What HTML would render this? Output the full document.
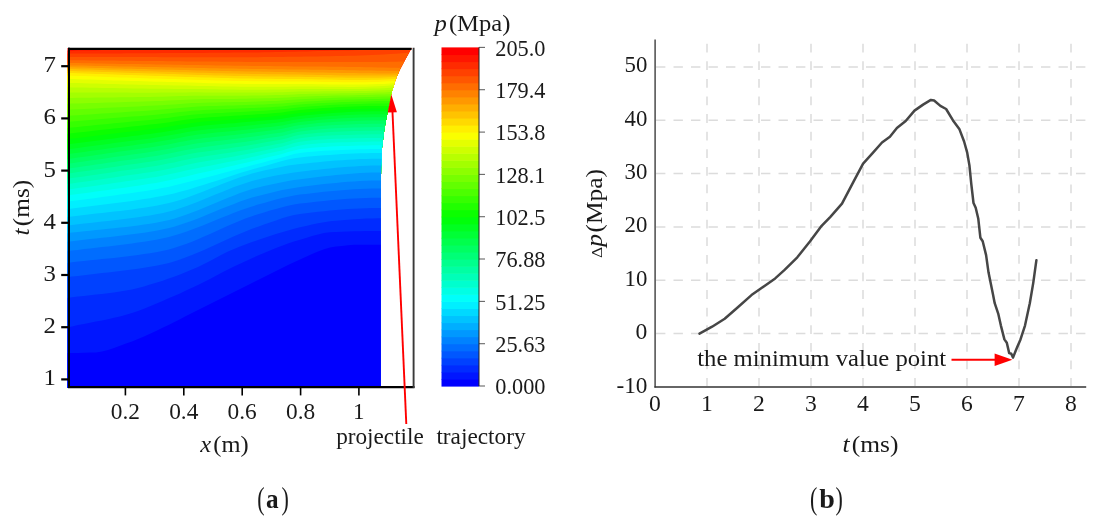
<!DOCTYPE html>
<html lang="en">
<head>
<meta charset="utf-8">
<title>Pressure distribution and pressure difference</title>
<style>
html,body{margin:0;padding:0;background:#fff;}
body{width:1103px;height:523px;overflow:hidden;}
svg{display:block;}
text{font-family:"Liberation Serif","DejaVu Serif",serif;fill:#1a1a1a;}
.it{font-style:italic;}
</style>
</head>
<body>
<svg width="1103" height="523" viewBox="0 0 1103 523">
<defs>
<clipPath id="cfill"><path d="M67.5 48L411.6 48L410.8 49.6L405 60L399.7 70.1L395.4 80.2L391.4 93.5L388 110L384.4 129L382 148L381.1 167L380.7 210L380.7 388L67.5 388Z"/></clipPath>
</defs>
<rect x="0" y="0" width="1103" height="523" fill="#ffffff"/>

<!-- ============ panel (a): contour plot ============ -->
<g clip-path="url(#cfill)">
<rect x="60" y="40" width="360" height="350" fill="#ff0000"/>
<path d="M66 50.4L72 50.4L78 50.3L84 50.3L90 50.2L96 50.2L102 50.1L108 50.1L114 50L120 50L126 49.9L132 49.9L138 49.8L144 49.8L150 49.7L156 49.7L162 49.6L168 49.6L174 49.5L180 49.5L186 49.4L192 49.3L198 49.3L204 49.2L210 49.2L216 49.1L222 49.1L228 49L234 48.9L240 48.9L246 48.8L252 48.8L258 48.7L264 48.6L270 48.5L276 48.4L282 48.3L288 48.1L294 48L300 47.9L306 47.8L312 47.6L318 47.5L324 47.4L330 47.2L336 47.1L342 47L348 46.8L354 46.7L360 46.5L366 46.2L372 45.9L378 45.6L384 45.3L390 45L396 44.7L402 44.4L408 44.1L414 43.9V390H66Z" fill="#ff2b00"/>
<path d="M66 53.5L72 53.5L78 53.5L84 53.5L90 53.5L96 53.5L102 53.4L108 53.4L114 53.4L120 53.4L126 53.3L132 53.3L138 53.3L144 53.2L150 53.2L156 53.2L162 53.1L168 53.1L174 53.1L180 53L186 53L192 52.9L198 52.9L204 52.9L210 52.8L216 52.8L222 52.7L228 52.7L234 52.6L240 52.6L246 52.5L252 52.5L258 52.4L264 52.3L270 52.2L276 52.1L282 51.9L288 51.8L294 51.7L300 51.5L306 51.4L312 51.3L318 51.1L324 51L330 50.8L336 50.7L342 50.5L348 50.4L354 50.2L360 50L366 49.7L372 49.4L378 49.1L384 48.8L390 48.5L396 48.3L402 48L408 47.7L414 47.5V390H66Z" fill="#ff4100"/>
<path d="M66 56.9L72 56.9L78 56.9L84 57L90 57L96 57L102 57L108 57L114 57L120 57.1L126 57.1L132 57.1L138 57.1L144 57.1L150 57.1L156 57.1L162 57.2L168 57.2L174 57.2L180 57.2L186 57.2L192 57.2L198 57.2L204 57.2L210 57.2L216 57.2L222 57.2L228 57.2L234 57.2L240 57.2L246 57.2L252 57.2L258 57.2L264 57.1L270 57L276 57L282 56.9L288 56.8L294 56.7L300 56.7L306 56.6L312 56.5L318 56.4L324 56.3L330 56.2L336 56L342 55.9L348 55.8L354 55.7L360 55.5L366 55.2L372 55L378 54.7L384 54.4L390 54L396 53.7L402 53.3L408 52.8L414 52.5V390H66Z" fill="#ff5700"/>
<path d="M66 60.1L72 60.2L78 60.3L84 60.3L90 60.4L96 60.5L102 60.5L108 60.6L114 60.6L120 60.7L126 60.8L132 60.8L138 60.9L144 61L150 61L156 61.1L162 61.1L168 61.2L174 61.3L180 61.3L186 61.4L192 61.4L198 61.5L204 61.5L210 61.6L216 61.6L222 61.7L228 61.7L234 61.8L240 61.8L246 61.9L252 61.9L258 62L264 62L270 62L276 62L282 62.1L288 62.1L294 62.1L300 62.1L306 62.1L312 62.1L318 62L324 62L330 62L336 62L342 62L348 62L354 62L360 62L366 61.9L372 61.9L378 61.9L384 61.9L390 61.8L396 61.8L402 61.6L408 61.5L414 61.3V390H66Z" fill="#ff6d00"/>
<path d="M66 63L72 63L78 63.1L84 63.2L90 63.3L96 63.4L102 63.5L108 63.7L114 63.8L120 63.9L126 63.9L132 64L138 64.1L144 64.2L150 64.3L156 64.4L162 64.5L168 64.6L174 64.7L180 64.8L186 64.9L192 65L198 65.1L204 65.2L210 65.3L216 65.4L222 65.5L228 65.6L234 65.7L240 65.7L246 65.8L252 65.9L258 66L264 66L270 66.1L276 66.2L282 66.2L288 66.3L294 66.4L300 66.4L306 66.5L312 66.5L318 66.6L324 66.6L330 66.7L336 66.8L342 66.8L348 66.9L354 67L360 67.1L366 67.2L372 67.3L378 67.5L384 67.6L390 67.7L396 67.8L402 67.9L408 68L414 68V390H66Z" fill="#ff8200"/>
<path d="M66 65.2L72 65.4L78 65.5L84 65.6L90 65.7L96 65.9L102 66L108 66.1L114 66.2L120 66.4L126 66.5L132 66.6L138 66.7L144 66.9L150 67L156 67.1L162 67.2L168 67.3L174 67.5L180 67.6L186 67.7L192 67.8L198 67.9L204 68.1L210 68.2L216 68.3L222 68.4L228 68.5L234 68.6L240 68.7L246 68.8L252 68.9L258 69L264 69.1L270 69.2L276 69.2L282 69.3L288 69.4L294 69.5L300 69.5L306 69.6L312 69.7L318 69.8L324 69.8L330 69.9L336 70L342 70.1L348 70.2L354 70.3L360 70.4L366 70.5L372 70.6L378 70.7L384 70.8L390 70.9L396 70.9L402 70.9L408 70.9L414 70.9V390H66Z" fill="#ff9800"/>
<path d="M66 67.2L72 67.3L78 67.5L84 67.6L90 67.8L96 67.9L102 68.1L108 68.2L114 68.4L120 68.5L126 68.7L132 68.8L138 69L144 69.1L150 69.2L156 69.4L162 69.5L168 69.7L174 69.8L180 70L186 70.1L192 70.3L198 70.4L204 70.6L210 70.7L216 70.8L222 71L228 71.1L234 71.2L240 71.3L246 71.4L252 71.5L258 71.6L264 71.7L270 71.8L276 71.9L282 72L288 72L294 72.1L300 72.2L306 72.3L312 72.4L318 72.5L324 72.6L330 72.7L336 72.8L342 72.9L348 73L354 73.1L360 73.2L366 73.2L372 73.3L378 73.4L384 73.4L390 73.4L396 73.3L402 73.2L408 73.2L414 73.2V390H66Z" fill="#ffae00"/>
<path d="M66 69L72 69.1L78 69.3L84 69.5L90 69.6L96 69.8L102 70L108 70.2L114 70.3L120 70.5L126 70.7L132 70.8L138 71L144 71.2L150 71.3L156 71.5L162 71.7L168 71.8L174 72L180 72.2L186 72.3L192 72.5L198 72.7L204 72.8L210 73L216 73.2L222 73.3L228 73.5L234 73.6L240 73.7L246 73.8L252 73.9L258 74L264 74.1L270 74.2L276 74.3L282 74.3L288 74.4L294 74.5L300 74.6L306 74.7L312 74.8L318 74.9L324 75L330 75.1L336 75.2L342 75.4L348 75.5L354 75.5L360 75.6L366 75.6L372 75.6L378 75.6L384 75.6L390 75.5L396 75.3L402 75.1L408 74.9L414 74.9V390H66Z" fill="#ffc300"/>
<path d="M66 70.8L72 71L78 71.2L84 71.4L90 71.6L96 71.7L102 71.9L108 72.1L114 72.3L120 72.5L126 72.7L132 72.9L138 73.1L144 73.3L150 73.4L156 73.6L162 73.8L168 74L174 74.1L180 74.3L186 74.5L192 74.7L198 74.9L204 75.1L210 75.3L216 75.4L222 75.6L228 75.7L234 75.9L240 76L246 76.1L252 76.2L258 76.3L264 76.4L270 76.5L276 76.5L282 76.6L288 76.7L294 76.7L300 76.8L306 76.9L312 77L318 77.1L324 77.3L330 77.4L336 77.5L342 77.6L348 77.7L354 77.8L360 77.8L366 77.8L372 77.7L378 77.7L384 77.6L390 77.3L396 77L402 76.7L408 76.5L414 76.5V390H66Z" fill="#ffd900"/>
<path d="M66 72.9L72 73.1L78 73.3L84 73.5L90 73.7L96 73.9L102 74.1L108 74.3L114 74.5L120 74.7L126 74.9L132 75.1L138 75.3L144 75.5L150 75.7L156 75.9L162 76.1L168 76.3L174 76.5L180 76.7L186 76.9L192 77.1L198 77.3L204 77.4L210 77.6L216 77.8L222 78L228 78.1L234 78.3L240 78.4L246 78.5L252 78.6L258 78.7L264 78.8L270 78.8L276 78.9L282 78.9L288 79L294 79L300 79.1L306 79.2L312 79.3L318 79.4L324 79.5L330 79.6L336 79.8L342 79.9L348 79.9L354 80L360 80L366 79.9L372 79.8L378 79.7L384 79.5L390 79.2L396 78.8L402 78.4L408 78.1L414 78.1V390H66Z" fill="#ffef00"/>
<path d="M66 75.5L72 75.7L78 75.9L84 76.1L90 76.3L96 76.5L102 76.8L108 77L114 77.2L120 77.4L126 77.6L132 77.8L138 78L144 78.2L150 78.4L156 78.6L162 78.8L168 78.9L174 79.1L180 79.3L186 79.5L192 79.7L198 79.9L204 80.1L210 80.3L216 80.4L222 80.6L228 80.8L234 80.9L240 81L246 81.1L252 81.2L258 81.3L264 81.3L270 81.4L276 81.4L282 81.4L288 81.4L294 81.5L300 81.5L306 81.6L312 81.6L318 81.8L324 81.9L330 82L336 82.1L342 82.2L348 82.3L354 82.3L360 82.3L366 82.2L372 82L378 81.9L384 81.6L390 81.2L396 80.8L402 80.4L408 80.1L414 80V390H66Z" fill="#faff00"/>
<path d="M66 78.8L72 79L78 79.2L84 79.4L90 79.6L96 79.8L102 80L108 80.2L114 80.4L120 80.6L126 80.8L132 81L138 81.1L144 81.3L150 81.5L156 81.7L162 81.8L168 82L174 82.1L180 82.3L186 82.5L192 82.6L198 82.8L204 83L210 83.2L216 83.3L222 83.5L228 83.6L234 83.7L240 83.8L246 83.9L252 84L258 84L264 84.1L270 84.1L276 84.1L282 84.1L288 84.1L294 84L300 84L306 84.1L312 84.1L318 84.2L324 84.3L330 84.4L336 84.5L342 84.6L348 84.6L354 84.6L360 84.6L366 84.5L372 84.3L378 84.1L384 83.9L390 83.5L396 83L402 82.5L408 82.2L414 82.2V390H66Z" fill="#e4ff00"/>
<path d="M66 82.7L72 82.9L78 83.1L84 83.2L90 83.4L96 83.6L102 83.7L108 83.9L114 84L120 84.2L126 84.4L132 84.5L138 84.7L144 84.8L150 84.9L156 85.1L162 85.2L168 85.3L174 85.4L180 85.5L186 85.6L192 85.7L198 85.9L204 86L210 86.1L216 86.3L222 86.4L228 86.5L234 86.6L240 86.7L246 86.8L252 86.8L258 86.8L264 86.8L270 86.8L276 86.8L282 86.8L288 86.7L294 86.6L300 86.6L306 86.6L312 86.6L318 86.6L324 86.7L330 86.7L336 86.8L342 86.8L348 86.9L354 86.9L360 86.8L366 86.7L372 86.5L378 86.3L384 86.1L390 85.6L396 85.2L402 84.7L408 84.4L414 84.3V390H66Z" fill="#ceff00"/>
<path d="M66 87.3L72 87.4L78 87.5L84 87.6L90 87.7L96 87.8L102 87.9L108 88L114 88.1L120 88.2L126 88.3L132 88.4L138 88.5L144 88.6L150 88.7L156 88.7L162 88.8L168 88.8L174 88.9L180 88.9L186 88.9L192 89L198 89L204 89.1L210 89.2L216 89.3L222 89.4L228 89.5L234 89.6L240 89.7L246 89.7L252 89.7L258 89.7L264 89.7L270 89.6L276 89.5L282 89.5L288 89.3L294 89.2L300 89.1L306 89L312 89L318 89L324 89L330 89L336 89L342 89L348 89L354 89L360 89L366 88.8L372 88.6L378 88.4L384 88.2L390 87.8L396 87.3L402 86.9L408 86.6L414 86.5V390H66Z" fill="#b8ff00"/>
<path d="M66 92.5L72 92.5L78 92.5L84 92.5L90 92.5L96 92.5L102 92.6L108 92.6L114 92.6L120 92.6L126 92.6L132 92.7L138 92.7L144 92.7L150 92.7L156 92.7L162 92.6L168 92.6L174 92.5L180 92.4L186 92.4L192 92.3L198 92.3L204 92.4L210 92.4L216 92.5L222 92.5L228 92.6L234 92.6L240 92.6L246 92.6L252 92.6L258 92.6L264 92.5L270 92.4L276 92.3L282 92.2L288 92L294 91.8L300 91.6L306 91.5L312 91.4L318 91.4L324 91.3L330 91.3L336 91.2L342 91.2L348 91.2L354 91.1L360 91L366 90.9L372 90.7L378 90.5L384 90.3L390 89.9L396 89.5L402 89.1L408 88.8L414 88.7V390H66Z" fill="#a3ff00"/>
<path d="M66 98L72 97.9L78 97.8L84 97.7L90 97.7L96 97.6L102 97.5L108 97.4L114 97.4L120 97.3L126 97.2L132 97.2L138 97.1L144 97L150 96.9L156 96.8L162 96.7L168 96.5L174 96.3L180 96.1L186 96L192 95.8L198 95.7L204 95.7L210 95.7L216 95.7L222 95.7L228 95.7L234 95.7L240 95.7L246 95.7L252 95.6L258 95.5L264 95.4L270 95.3L276 95.1L282 94.9L288 94.7L294 94.4L300 94.1L306 94L312 93.8L318 93.7L324 93.6L330 93.5L336 93.4L342 93.3L348 93.3L354 93.2L360 93.1L366 92.9L372 92.8L378 92.6L384 92.4L390 92L396 91.7L402 91.3L408 91L414 91V390H66Z" fill="#8dff00"/>
<path d="M66 103.8L72 103.6L78 103.5L84 103.3L90 103.1L96 102.9L102 102.7L108 102.5L114 102.4L120 102.2L126 102L132 101.8L138 101.7L144 101.5L150 101.3L156 101.1L162 100.9L168 100.6L174 100.3L180 100L186 99.7L192 99.4L198 99.2L204 99.1L210 99.1L216 99L222 99L228 99L234 98.9L240 98.8L246 98.7L252 98.6L258 98.5L264 98.3L270 98.2L276 98L282 97.7L288 97.4L294 97L300 96.7L306 96.4L312 96.2L318 96L324 95.9L330 95.7L336 95.6L342 95.5L348 95.4L354 95.3L360 95.1L366 95L372 94.8L378 94.6L384 94.5L390 94.2L396 93.9L402 93.6L408 93.3L414 93.3V390H66Z" fill="#77ff00"/>
<path d="M66 109.9L72 109.6L78 109.3L84 109L90 108.7L96 108.4L102 108.1L108 107.8L114 107.5L120 107.2L126 107L132 106.7L138 106.4L144 106.1L150 105.8L156 105.5L162 105.2L168 104.8L174 104.4L180 103.9L186 103.5L192 103.1L198 102.9L204 102.7L210 102.5L216 102.4L222 102.3L228 102.2L234 102.1L240 102L246 101.9L252 101.7L258 101.5L264 101.3L270 101.1L276 100.9L282 100.6L288 100.1L294 99.7L300 99.3L306 99L312 98.7L318 98.4L324 98.2L330 98L336 97.8L342 97.6L348 97.5L354 97.3L360 97.2L366 97.1L372 96.9L378 96.7L384 96.6L390 96.4L396 96.1L402 95.9L408 95.7L414 95.6V390H66Z" fill="#62ff00"/>
<path d="M66 116L72 115.6L78 115.2L84 114.8L90 114.4L96 114L102 113.6L108 113.2L114 112.8L120 112.4L126 112L132 111.6L138 111.3L144 110.9L150 110.5L156 110.1L162 109.6L168 109.1L174 108.5L180 108L186 107.4L192 106.9L198 106.6L204 106.3L210 106.1L216 105.9L222 105.8L228 105.6L234 105.5L240 105.3L246 105.1L252 104.8L258 104.6L264 104.4L270 104.1L276 103.8L282 103.4L288 102.9L294 102.4L300 101.9L306 101.5L312 101.2L318 100.9L324 100.6L330 100.3L336 100L342 99.8L348 99.6L354 99.5L360 99.3L366 99.2L372 99L378 98.9L384 98.8L390 98.6L396 98.4L402 98.2L408 98.1L414 98.1V390H66Z" fill="#4cff00"/>
<path d="M66 122.1L72 121.6L78 121.1L84 120.6L90 120.1L96 119.6L102 119.1L108 118.6L114 118.1L120 117.6L126 117.1L132 116.6L138 116.2L144 115.7L150 115.2L156 114.7L162 114.1L168 113.5L174 112.8L180 112.1L186 111.4L192 110.8L198 110.4L204 110L210 109.7L216 109.5L222 109.3L228 109.1L234 108.8L240 108.6L246 108.3L252 108.1L258 107.8L264 107.5L270 107.2L276 106.8L282 106.4L288 105.8L294 105.1L300 104.6L306 104.1L312 103.7L318 103.3L324 103L330 102.7L336 102.4L342 102.1L348 101.9L354 101.7L360 101.6L366 101.4L372 101.2L378 101.1L384 101L390 100.9L396 100.8L402 100.7L408 100.6L414 100.6V390H66Z" fill="#36ff00"/>
<path d="M66 128.1L72 127.5L78 126.9L84 126.3L90 125.7L96 125.1L102 124.5L108 123.9L114 123.3L120 122.8L126 122.2L132 121.6L138 121.1L144 120.5L150 119.9L156 119.3L162 118.6L168 117.9L174 117.1L180 116.3L186 115.5L192 114.8L198 114.2L204 113.8L210 113.4L216 113.1L222 112.9L228 112.6L234 112.3L240 112L246 111.7L252 111.3L258 111L264 110.7L270 110.3L276 109.8L282 109.3L288 108.7L294 107.9L300 107.3L306 106.8L312 106.3L318 105.9L324 105.5L330 105.1L336 104.8L342 104.5L348 104.2L354 104L360 103.9L366 103.7L372 103.5L378 103.5L384 103.4L390 103.3L396 103.3L402 103.2L408 103.1L414 103.1V390H66Z" fill="#21ff00"/>
<path d="M66 133.9L72 133.2L78 132.5L84 131.9L90 131.2L96 130.5L102 129.8L108 129.2L114 128.5L120 127.9L126 127.2L132 126.6L138 125.9L144 125.3L150 124.6L156 123.9L162 123.2L168 122.4L174 121.5L180 120.6L186 119.7L192 118.9L198 118.2L204 117.7L210 117.2L216 116.9L222 116.5L228 116.2L234 115.8L240 115.5L246 115.1L252 114.7L258 114.3L264 113.9L270 113.4L276 112.9L282 112.4L288 111.6L294 110.8L300 110.1L306 109.6L312 109.1L318 108.6L324 108.1L330 107.7L336 107.3L342 107L348 106.7L354 106.5L360 106.3L366 106.1L372 106L378 105.9L384 105.9L390 105.9L396 105.8L402 105.8L408 105.8L414 105.8V390H66Z" fill="#0bff00"/>
<path d="M66 139.4L72 138.6L78 137.9L84 137.2L90 136.4L96 135.7L102 135L108 134.2L114 133.5L120 132.8L126 132.1L132 131.4L138 130.7L144 130L150 129.3L156 128.5L162 127.7L168 126.8L174 125.8L180 124.8L186 123.9L192 123L198 122.2L204 121.6L210 121.1L216 120.7L222 120.3L228 119.9L234 119.4L240 119L246 118.5L252 118.1L258 117.6L264 117.2L270 116.7L276 116.1L282 115.5L288 114.6L294 113.7L300 113L306 112.4L312 111.9L318 111.3L324 110.8L330 110.4L336 110L342 109.6L348 109.3L354 109.1L360 108.9L366 108.7L372 108.6L378 108.5L384 108.5L390 108.5L396 108.5L402 108.5L408 108.5L414 108.5V390H66Z" fill="#00ff0b"/>
<path d="M66 144.5L72 143.8L78 143L84 142.2L90 141.4L96 140.7L102 139.9L108 139.1L114 138.4L120 137.6L126 136.9L132 136.1L138 135.4L144 134.6L150 133.9L156 133.1L162 132.2L168 131.2L174 130.2L180 129.1L186 128.1L192 127.1L198 126.3L204 125.6L210 125.1L216 124.6L222 124.1L228 123.6L234 123.2L240 122.6L246 122.1L252 121.6L258 121.1L264 120.5L270 120L276 119.4L282 118.7L288 117.7L294 116.8L300 116L306 115.3L312 114.7L318 114.2L324 113.7L330 113.2L336 112.8L342 112.4L348 112.1L354 111.8L360 111.6L366 111.5L372 111.3L378 111.3L384 111.3L390 111.3L396 111.3L402 111.3L408 111.3L414 111.4V390H66Z" fill="#00ff21"/>
<path d="M66 149.5L72 148.7L78 147.9L84 147.1L90 146.3L96 145.5L102 144.7L108 143.9L114 143.1L120 142.3L126 141.5L132 140.8L138 140L144 139.2L150 138.4L156 137.5L162 136.6L168 135.6L174 134.5L180 133.4L186 132.3L192 131.3L198 130.4L204 129.7L210 129.1L216 128.5L222 128L228 127.5L234 127L240 126.4L246 125.8L252 125.2L258 124.6L264 124L270 123.4L276 122.7L282 122L288 120.9L294 119.8L300 118.9L306 118.3L312 117.7L318 117.1L324 116.6L330 116.1L336 115.7L342 115.3L348 115L354 114.7L360 114.5L366 114.4L372 114.2L378 114.2L384 114.2L390 114.2L396 114.3L402 114.3L408 114.3L414 114.3V390H66Z" fill="#00ff36"/>
<path d="M66 154.4L72 153.6L78 152.8L84 151.9L90 151.1L96 150.3L102 149.4L108 148.6L114 147.8L120 147L126 146.2L132 145.4L138 144.6L144 143.7L150 142.9L156 142L162 141.1L168 140L174 138.9L180 137.7L186 136.6L192 135.5L198 134.6L204 133.9L210 133.2L216 132.6L222 132L228 131.5L234 130.9L240 130.3L246 129.7L252 129L258 128.3L264 127.6L270 126.9L276 126.2L282 125.4L288 124.2L294 123L300 122L306 121.3L312 120.7L318 120.1L324 119.6L330 119.1L336 118.7L342 118.3L348 118L354 117.8L360 117.6L366 117.4L372 117.3L378 117.2L384 117.3L390 117.3L396 117.3L402 117.4L408 117.4L414 117.4V390H66Z" fill="#00ff4c"/>
<path d="M66 159.2L72 158.4L78 157.5L84 156.7L90 155.9L96 155L102 154.2L108 153.3L114 152.4L120 151.6L126 150.8L132 150L138 149.1L144 148.3L150 147.4L156 146.5L162 145.6L168 144.5L174 143.3L180 142.1L186 140.9L192 139.8L198 138.9L204 138.1L210 137.4L216 136.8L222 136.2L228 135.6L234 134.9L240 134.3L246 133.6L252 132.8L258 132.1L264 131.2L270 130.5L276 129.7L282 128.8L288 127.5L294 126.1L300 125.1L306 124.4L312 123.7L318 123.1L324 122.6L330 122.2L336 121.8L342 121.5L348 121.2L354 121L360 120.8L366 120.6L372 120.5L378 120.4L384 120.5L390 120.5L396 120.5L402 120.6L408 120.6L414 120.6V390H66Z" fill="#00ff62"/>
<path d="M66 164L72 163.2L78 162.3L84 161.5L90 160.6L96 159.8L102 158.9L108 158L114 157.1L120 156.3L126 155.4L132 154.6L138 153.8L144 152.9L150 152.1L156 151.1L162 150.1L168 149L174 147.8L180 146.6L186 145.4L192 144.3L198 143.3L204 142.5L210 141.8L216 141.1L222 140.4L228 139.7L234 139.1L240 138.3L246 137.6L252 136.8L258 135.9L264 135L270 134.1L276 133.3L282 132.4L288 130.9L294 129.4L300 128.2L306 127.5L312 126.8L318 126.3L324 125.8L330 125.3L336 125L342 124.7L348 124.5L354 124.3L360 124.1L366 123.9L372 123.8L378 123.7L384 123.8L390 123.8L396 123.8L402 123.9L408 123.9L414 123.9V390H66Z" fill="#00ff77"/>
<path d="M66 168.8L72 168L78 167.2L84 166.3L90 165.5L96 164.6L102 163.7L108 162.8L114 161.9L120 161.1L126 160.2L132 159.4L138 158.5L144 157.7L150 156.8L156 155.9L162 154.8L168 153.7L174 152.5L180 151.2L186 150L192 148.9L198 147.9L204 147L210 146.2L216 145.5L222 144.8L228 144L234 143.3L240 142.5L246 141.7L252 140.8L258 139.8L264 138.8L270 137.8L276 136.9L282 135.9L288 134.4L294 132.7L300 131.5L306 130.7L312 130.1L318 129.5L324 129L330 128.6L336 128.3L342 128.1L348 127.8L354 127.6L360 127.5L366 127.3L372 127.2L378 127.1L384 127.2L390 127.2L396 127.2L402 127.3L408 127.3L414 127.3V390H66Z" fill="#00ff8d"/>
<path d="M66 173.7L72 172.9L78 172.1L84 171.3L90 170.4L96 169.6L102 168.7L108 167.8L114 166.9L120 166L126 165.1L132 164.3L138 163.5L144 162.6L150 161.7L156 160.8L162 159.7L168 158.6L174 157.3L180 156L186 154.8L192 153.6L198 152.6L204 151.7L210 150.9L216 150L222 149.2L228 148.4L234 147.6L240 146.7L246 145.8L252 144.8L258 143.7L264 142.6L270 141.6L276 140.6L282 139.5L288 137.9L294 136.1L300 134.8L306 134L312 133.4L318 132.8L324 132.4L330 132L336 131.7L342 131.5L348 131.3L354 131.1L360 131L366 130.8L372 130.7L378 130.6L384 130.7L390 130.7L396 130.7L402 130.7L408 130.8L414 130.8V390H66Z" fill="#00ffa3"/>
<path d="M66 178.8L72 178L78 177.2L84 176.4L90 175.6L96 174.7L102 173.8L108 172.9L114 172L120 171.1L126 170.3L132 169.4L138 168.6L144 167.7L150 166.8L156 165.9L162 164.8L168 163.6L174 162.4L180 161.1L186 159.8L192 158.6L198 157.5L204 156.5L210 155.6L216 154.7L222 153.8L228 152.9L234 151.9L240 151L246 150L252 148.9L258 147.7L264 146.5L270 145.4L276 144.3L282 143.2L288 141.4L294 139.5L300 138.2L306 137.4L312 136.8L318 136.2L324 135.8L330 135.5L336 135.2L342 135L348 134.9L354 134.7L360 134.5L366 134.4L372 134.3L378 134.2L384 134.2L390 134.2L396 134.3L402 134.3L408 134.3L414 134.3V390H66Z" fill="#00ffb8"/>
<path d="M66 184.2L72 183.4L78 182.6L84 181.7L90 180.9L96 180L102 179.2L108 178.3L114 177.4L120 176.5L126 175.6L132 174.8L138 174L144 173.1L150 172.2L156 171.2L162 170.2L168 169L174 167.7L180 166.4L186 165L192 163.8L198 162.6L204 161.6L210 160.5L216 159.5L222 158.5L228 157.4L234 156.4L240 155.3L246 154.2L252 153L258 151.7L264 150.4L270 149.2L276 148L282 146.8L288 145L294 143.1L300 141.7L306 141L312 140.3L318 139.8L324 139.4L330 139.1L336 138.8L342 138.7L348 138.5L354 138.3L360 138.2L366 138L372 137.9L378 137.9L384 137.9L390 137.9L396 137.9L402 137.9L408 137.9L414 137.9V390H66Z" fill="#00ffce"/>
<path d="M66 189.7L72 188.9L78 188.1L84 187.3L90 186.5L96 185.7L102 184.8L108 183.9L114 183L120 182.2L126 181.3L132 180.5L138 179.6L144 178.8L150 177.8L156 176.9L162 175.8L168 174.6L174 173.3L180 171.9L186 170.6L192 169.2L198 168L204 166.8L210 165.7L216 164.5L222 163.3L228 162.1L234 160.9L240 159.7L246 158.4L252 157.1L258 155.7L264 154.3L270 153L276 151.7L282 150.4L288 148.5L294 146.7L300 145.4L306 144.6L312 144L318 143.5L324 143.1L330 142.7L336 142.5L342 142.3L348 142.2L354 142L360 141.8L366 141.7L372 141.6L378 141.5L384 141.5L390 141.5L396 141.6L402 141.6L408 141.6L414 141.6V390H66Z" fill="#00ffe4"/>
<path d="M66 195.6L72 194.8L78 194L84 193.2L90 192.4L96 191.6L102 190.8L108 189.9L114 189L120 188.2L126 187.4L132 186.5L138 185.7L144 184.8L150 183.8L156 182.9L162 181.8L168 180.5L174 179.2L180 177.8L186 176.4L192 175L198 173.6L204 172.3L210 170.9L216 169.6L222 168.2L228 166.8L234 165.5L240 164.1L246 162.7L252 161.2L258 159.7L264 158.2L270 156.8L276 155.4L282 153.9L288 152.1L294 150.4L300 149.1L306 148.4L312 147.8L318 147.3L324 146.9L330 146.5L336 146.3L342 146.1L348 145.9L354 145.7L360 145.6L366 145.4L372 145.3L378 145.3L384 145.3L390 145.3L396 145.3L402 145.3L408 145.3L414 145.3V390H66Z" fill="#00fffa"/>
<path d="M66 201.9L72 201.1L78 200.3L84 199.5L90 198.7L96 197.9L102 197.1L108 196.3L114 195.4L120 194.6L126 193.8L132 193L138 192.1L144 191.2L150 190.2L156 189.2L162 188.1L168 186.9L174 185.5L180 184.1L186 182.6L192 181L198 179.5L204 178L210 176.4L216 174.9L222 173.3L228 171.7L234 170.1L240 168.5L246 166.9L252 165.3L258 163.7L264 162.2L270 160.6L276 159L282 157.5L288 155.7L294 154.1L300 153L306 152.3L312 151.7L318 151.2L324 150.8L330 150.4L336 150.2L342 149.9L348 149.7L354 149.5L360 149.3L366 149.2L372 149.1L378 149L384 149L390 149L396 149L402 149L408 149L414 149V390H66Z" fill="#00efff"/>
<path d="M66 209.4L72 208.6L78 207.8L84 207L90 206.3L96 205.5L102 204.8L108 204.1L114 203.3L120 202.5L126 201.7L132 200.9L138 200.1L144 199.1L150 198.2L156 197.1L162 196L168 194.8L174 193.4L180 191.8L186 190.2L192 188.4L198 186.6L204 184.7L210 182.8L216 180.9L222 178.9L228 176.9L234 175L240 173.1L246 171.3L252 169.5L258 167.8L264 166.2L270 164.4L276 162.7L282 161L288 159.4L294 158.2L300 157.4L306 156.8L312 156.3L318 155.8L324 155.3L330 154.9L336 154.5L342 154.1L348 153.8L354 153.5L360 153.3L366 153.2L372 153.1L378 153L384 153L390 153L396 153L402 153L408 153L414 153V390H66Z" fill="#00d9ff"/>
<path d="M66 217.2L72 216.4L78 215.7L84 215L90 214.3L96 213.6L102 212.9L108 212.3L114 211.6L120 210.9L126 210.2L132 209.4L138 208.6L144 207.7L150 206.7L156 205.7L162 204.6L168 203.3L174 201.7L180 199.9L186 197.9L192 195.8L198 193.5L204 191.2L210 188.8L216 186.4L222 184L228 181.7L234 179.5L240 177.3L246 175.4L252 173.6L258 172L264 170.6L270 169.2L276 167.9L282 166.7L288 165.6L294 164.7L300 164L306 163.4L312 162.8L318 162.2L324 161.6L330 161.1L336 160.6L342 160.2L348 159.8L354 159.4L360 159.1L366 158.9L372 158.8L378 158.7L384 158.7L390 158.7L396 158.7L402 158.7L408 158.7L414 158.7V390H66Z" fill="#00c3ff"/>
<path d="M66 225.8L72 225L78 224.3L84 223.6L90 222.9L96 222.2L102 221.6L108 220.9L114 220.2L120 219.5L126 218.8L132 218L138 217.2L144 216.3L150 215.4L156 214.3L162 213.2L168 211.8L174 210.2L180 208.3L186 206.3L192 204.1L198 201.7L204 199.3L210 196.8L216 194.3L222 191.9L228 189.4L234 187.1L240 184.9L246 182.9L252 181.1L258 179.5L264 178.1L270 176.8L276 175.5L282 174.4L288 173.4L294 172.5L300 171.7L306 171L312 170.3L318 169.7L324 169L330 168.4L336 167.8L342 167.3L348 166.8L354 166.4L360 166L366 165.8L372 165.6L378 165.5L384 165.5L390 165.5L396 165.5L402 165.5L408 165.5L414 165.5V390H66Z" fill="#00aeff"/>
<path d="M66 233.4L72 232.6L78 232L84 231.3L90 230.7L96 230.1L102 229.4L108 228.8L114 228.2L120 227.6L126 226.9L132 226.2L138 225.4L144 224.6L150 223.7L156 222.7L162 221.6L168 220.3L174 218.7L180 216.8L186 214.8L192 212.6L198 210.2L204 207.8L210 205.3L216 202.7L222 200.2L228 197.7L234 195.4L240 193.1L246 191L252 189.1L258 187.5L264 186.1L270 184.7L276 183.4L282 182.2L288 181.1L294 180.1L300 179.3L306 178.6L312 177.8L318 177.1L324 176.3L330 175.7L336 175L342 174.4L348 173.9L354 173.4L360 173L366 172.7L372 172.5L378 172.4L384 172.4L390 172.4L396 172.4L402 172.4L408 172.4L414 172.4V390H66Z" fill="#0098ff"/>
<path d="M66 242L72 241.2L78 240.5L84 239.8L90 239.1L96 238.5L102 237.8L108 237.2L114 236.5L120 235.8L126 235.1L132 234.3L138 233.5L144 232.7L150 231.7L156 230.7L162 229.6L168 228.3L174 226.7L180 224.8L186 222.8L192 220.7L198 218.4L204 216L210 213.5L216 211.1L222 208.6L228 206.2L234 203.9L240 201.6L246 199.5L252 197.6L258 195.9L264 194.4L270 192.9L276 191.5L282 190.1L288 188.9L294 187.9L300 187L306 186.3L312 185.5L318 184.8L324 184.1L330 183.5L336 182.9L342 182.3L348 181.8L354 181.4L360 181.1L366 180.8L372 180.6L378 180.5L384 180.5L390 180.5L396 180.5L402 180.5L408 180.5L414 180.5V390H66Z" fill="#0082ff"/>
<path d="M66 251.4L72 250.6L78 249.9L84 249.1L90 248.4L96 247.8L102 247.1L108 246.4L114 245.7L120 245L126 244.3L132 243.5L138 242.6L144 241.7L150 240.8L156 239.7L162 238.6L168 237.2L174 235.6L180 233.8L186 231.8L192 229.6L198 227.3L204 225L210 222.5L216 220.1L222 217.6L228 215.2L234 212.8L240 210.5L246 208.4L252 206.4L258 204.6L264 202.9L270 201.2L276 199.6L282 198L288 196.7L294 195.5L300 194.6L306 193.9L312 193.2L318 192.5L324 191.8L330 191.2L336 190.7L342 190.2L348 189.7L354 189.3L360 189L366 188.7L372 188.6L378 188.5L384 188.5L390 188.5L396 188.5L402 188.5L408 188.5L414 188.5V390H66Z" fill="#006dff"/>
<path d="M66 263.1L72 262.3L78 261.6L84 261L90 260.3L96 259.7L102 259.1L108 258.5L114 257.9L120 257.2L126 256.5L132 255.8L138 255L144 254.1L150 253.2L156 252.2L162 251.1L168 249.7L174 248.1L180 246.1L186 244L192 241.7L198 239.2L204 236.6L210 233.9L216 231.2L222 228.5L228 225.8L234 223.2L240 220.7L246 218.3L252 216.2L258 214.2L264 212.4L270 210.6L276 208.9L282 207.2L288 205.7L294 204.5L300 203.6L306 202.9L312 202.2L318 201.5L324 200.9L330 200.3L336 199.8L342 199.3L348 198.8L354 198.5L360 198.2L366 197.9L372 197.8L378 197.7L384 197.7L390 197.7L396 197.7L402 197.7L408 197.7L414 197.7V390H66Z" fill="#0057ff"/>
<path d="M66 277.4L72 276.6L78 275.9L84 275.2L90 274.5L96 273.8L102 273.1L108 272.5L114 271.8L120 271.1L126 270.3L132 269.5L138 268.7L144 267.8L150 266.8L156 265.8L162 264.6L168 263.2L174 261.5L180 259.5L186 257.3L192 255L198 252.5L204 249.9L210 247.2L216 244.5L222 241.7L228 239L234 236.3L240 233.7L246 231.2L252 228.8L258 226.7L264 224.6L270 222.5L276 220.4L282 218.3L288 216.5L294 215L300 214L306 213.2L312 212.5L318 211.8L324 211.2L330 210.6L336 210L342 209.6L348 209.1L354 208.8L360 208.5L366 208.2L372 208.1L378 208L384 208L390 208L396 208L402 208L408 208L414 208V390H66Z" fill="#0041ff"/>
<path d="M66 298.1L72 297.3L78 296.6L84 295.9L90 295.3L96 294.6L102 293.9L108 293.2L114 292.4L120 291.5L126 290.5L132 289.4L138 288L144 286.4L150 284.6L156 282.8L162 280.9L168 278.8L174 276.7L180 274.4L186 272.1L192 269.6L198 267L204 264.1L210 261L216 257.7L222 254.4L228 251.5L234 248.9L240 246.5L246 244.2L252 242.1L258 240L264 238L270 236L276 234.1L282 232.2L288 230.4L294 228.7L300 227.3L306 225.9L312 224.5L318 223.2L324 222.2L330 221.3L336 220.7L342 220.2L348 219.7L354 219.3L360 218.9L366 218.6L372 218.4L378 218.3L384 218.3L390 218.3L396 218.3L402 218.3L408 218.3L414 218.3V390H66Z" fill="#002bff"/>
<path d="M66 327.6L72 326.4L78 325.1L84 323.9L90 322.8L96 321.6L102 320.4L108 319.2L114 317.8L120 316.4L126 314.8L132 313.1L138 311L144 308.7L150 306.2L156 303.7L162 301.2L168 298.6L174 296L180 293.4L186 290.6L192 287.8L198 285L204 282L210 278.9L216 275.7L222 272.5L228 269.5L234 266.6L240 263.7L246 260.9L252 258.2L258 255.5L264 253L270 250.5L276 248.1L282 245.8L288 243.6L294 241.5L300 239.7L306 237.9L312 236.1L318 234.4L324 233.1L330 232.2L336 231.9L342 231.7L348 231.5L354 231.3L360 231.2L366 231.1L372 231L378 231L384 231L390 231L396 231L402 231L408 231L414 231V390H66Z" fill="#0016ff"/>
<path d="M66 353.1L72 352.9L78 352.9L84 352.8L90 352.6L96 352.4L102 351.5L108 350L114 348L120 345.8L126 343.6L132 341.4L138 339L144 336.4L150 333.7L156 330.9L162 328.1L168 325.2L174 322.2L180 319.2L186 316.1L192 313L198 310L204 307L210 304L216 301L222 298L228 295L234 292L240 289L246 286L252 283L258 280L264 277L270 274L276 271L282 268L288 265L294 262.2L300 259.6L306 256.8L312 254L318 251.4L324 249.2L330 247.5L336 246.6L342 245.9L348 245.3L354 244.8L360 244.7L366 244.7L372 244.7L378 244.7L384 244.7L390 244.7L396 244.7L402 244.7L408 244.7L414 244.7V390H66Z" fill="#0000ff"/>
</g>
<g fill="none" stroke="#000" stroke-width="2.2">
<path d="M69 47.8V388" stroke-width="2"/>
<path d="M68 387.1H414.5"/>
<path d="M68 48.85H411.6" stroke-width="2.1"/>
<path d="M413.6 47.8V388" stroke="#3a3a3a" stroke-width="1.9"/>
<path d="M61.2 66.2H68"/>
<path d="M61.2 118.4H68"/>
<path d="M61.2 170.6H68"/>
<path d="M61.2 222.8H68"/>
<path d="M61.2 275H68"/>
<path d="M61.2 327.2H68"/>
<path d="M61.2 379.4H68"/>
<path d="M125.4 387V395.4" stroke-width="1.6"/>
<path d="M183.8 387V395.4" stroke-width="1.6"/>
<path d="M242.2 387V395.4" stroke-width="1.6"/>
<path d="M300.6 387V395.4" stroke-width="1.6"/>
<path d="M358.9 387V395.4" stroke-width="1.6"/>
</g>

<!-- colour bar -->
<rect x="441.5" y="378.95" width="37.5" height="7.65" fill="#0000ff"/>
<rect x="441.5" y="371.89" width="37.5" height="7.65" fill="#0016ff"/>
<rect x="441.5" y="364.84" width="37.5" height="7.65" fill="#002bff"/>
<rect x="441.5" y="357.78" width="37.5" height="7.65" fill="#0041ff"/>
<rect x="441.5" y="350.73" width="37.5" height="7.65" fill="#0057ff"/>
<rect x="441.5" y="343.68" width="37.5" height="7.65" fill="#006dff"/>
<rect x="441.5" y="336.62" width="37.5" height="7.65" fill="#0082ff"/>
<rect x="441.5" y="329.57" width="37.5" height="7.65" fill="#0098ff"/>
<rect x="441.5" y="322.51" width="37.5" height="7.65" fill="#00aeff"/>
<rect x="441.5" y="315.46" width="37.5" height="7.65" fill="#00c3ff"/>
<rect x="441.5" y="308.40" width="37.5" height="7.65" fill="#00d9ff"/>
<rect x="441.5" y="301.35" width="37.5" height="7.65" fill="#00efff"/>
<rect x="441.5" y="294.30" width="37.5" height="7.65" fill="#00fffa"/>
<rect x="441.5" y="287.24" width="37.5" height="7.65" fill="#00ffe4"/>
<rect x="441.5" y="280.19" width="37.5" height="7.65" fill="#00ffce"/>
<rect x="441.5" y="273.13" width="37.5" height="7.65" fill="#00ffb8"/>
<rect x="441.5" y="266.08" width="37.5" height="7.65" fill="#00ffa3"/>
<rect x="441.5" y="259.02" width="37.5" height="7.65" fill="#00ff8d"/>
<rect x="441.5" y="251.97" width="37.5" height="7.65" fill="#00ff77"/>
<rect x="441.5" y="244.92" width="37.5" height="7.65" fill="#00ff62"/>
<rect x="441.5" y="237.86" width="37.5" height="7.65" fill="#00ff4c"/>
<rect x="441.5" y="230.81" width="37.5" height="7.65" fill="#00ff36"/>
<rect x="441.5" y="223.75" width="37.5" height="7.65" fill="#00ff21"/>
<rect x="441.5" y="216.70" width="37.5" height="7.65" fill="#00ff0b"/>
<rect x="441.5" y="209.65" width="37.5" height="7.65" fill="#0bff00"/>
<rect x="441.5" y="202.59" width="37.5" height="7.65" fill="#21ff00"/>
<rect x="441.5" y="195.54" width="37.5" height="7.65" fill="#36ff00"/>
<rect x="441.5" y="188.48" width="37.5" height="7.65" fill="#4cff00"/>
<rect x="441.5" y="181.43" width="37.5" height="7.65" fill="#62ff00"/>
<rect x="441.5" y="174.38" width="37.5" height="7.65" fill="#77ff00"/>
<rect x="441.5" y="167.32" width="37.5" height="7.65" fill="#8dff00"/>
<rect x="441.5" y="160.27" width="37.5" height="7.65" fill="#a3ff00"/>
<rect x="441.5" y="153.21" width="37.5" height="7.65" fill="#b8ff00"/>
<rect x="441.5" y="146.16" width="37.5" height="7.65" fill="#ceff00"/>
<rect x="441.5" y="139.10" width="37.5" height="7.65" fill="#e4ff00"/>
<rect x="441.5" y="132.05" width="37.5" height="7.65" fill="#faff00"/>
<rect x="441.5" y="125.00" width="37.5" height="7.65" fill="#ffef00"/>
<rect x="441.5" y="117.94" width="37.5" height="7.65" fill="#ffd900"/>
<rect x="441.5" y="110.89" width="37.5" height="7.65" fill="#ffc300"/>
<rect x="441.5" y="103.83" width="37.5" height="7.65" fill="#ffae00"/>
<rect x="441.5" y="96.78" width="37.5" height="7.65" fill="#ff9800"/>
<rect x="441.5" y="89.72" width="37.5" height="7.65" fill="#ff8200"/>
<rect x="441.5" y="82.67" width="37.5" height="7.65" fill="#ff6d00"/>
<rect x="441.5" y="75.62" width="37.5" height="7.65" fill="#ff5700"/>
<rect x="441.5" y="68.56" width="37.5" height="7.65" fill="#ff4100"/>
<rect x="441.5" y="61.51" width="37.5" height="7.65" fill="#ff2b00"/>
<rect x="441.5" y="54.45" width="37.5" height="7.65" fill="#ff1600"/>
<rect x="441.5" y="47.40" width="37.5" height="7.65" fill="#ff0000"/>
<g fill="none" stroke="#666" stroke-width="1.1">
<path d="M479 47.4H485"/>
<path d="M479 89.7H485"/>
<path d="M479 132.1H485"/>
<path d="M479 174.4H485"/>
<path d="M479 216.7H485"/>
<path d="M479 259.0H485"/>
<path d="M479 301.4H485"/>
<path d="M479 343.7H485"/>
<path d="M479 386.0H485"/>
<path d="M479 47.4V386" stroke="#222" stroke-width="1"/>
</g>

<!-- projectile trajectory arrow -->
<path d="M392.4 110L406.3 424" fill="none" stroke="#ff0000" stroke-width="1.9"/>
<path d="M391.3 94.2L396.9 112.2L387.7 112.6Z" fill="#ff0000"/>

<!-- ============ panel (b): line chart ============ -->
<g fill="none" stroke="#dcdcdc" stroke-width="1.5" stroke-dasharray="9.4 8.1">
<path d="M656 333.6H1086.5" />
<path d="M656 280.3H1086.5" />
<path d="M656 226.9H1086.5" />
<path d="M656 173.6H1086.5" />
<path d="M656 120.2H1086.5" />
<path d="M656 66.9H1086.5" />
</g>
<g fill="none" stroke="#dcdcdc" stroke-width="1.5" stroke-dasharray="8.8 8.8">
<path d="M707 43.7V386" />
<path d="M759 43.7V386" />
<path d="M811 43.7V386" />
<path d="M863 43.7V386" />
<path d="M915 43.7V386" />
<path d="M967 43.7V386" />
<path d="M1019 43.7V386" />
<path d="M1071 43.7V386" />
</g>
<g fill="none" stroke="#4a4a4a" stroke-width="1.5">
<path d="M655.1 39.5V387.6"/>
<path d="M654.4 386.9H1086.2" stroke="#333"/>
</g>
<path d="M699.5 333.6L712.1 326.7L724.7 318.8L737.3 307.8L751.5 295.1L759.4 289.5L775.2 278.4L784.6 269.9L797.3 257.3L809.9 241.5L820.9 226.7L830.4 216.8L842 203.7L853.8 181.2L863.1 163.6L872.6 153.2L882 142.5L889.9 136.8L896.9 127.9L905.7 121L914.5 110.6L923.1 104.6L930.9 99.9L934.1 100.5L940.4 105.9L946.1 109L953 120.4L959.3 128.9L964.1 141.5L967.2 152.6L969.4 165.2L971.3 184.1L973.5 203L975.7 207.8L978.3 218.8L980.4 237.8L982.7 241.3L986.1 255.1L988.5 272.3L993 294.6L994.7 303.2L998.2 313.6L1000.9 325.6L1004.4 339.4L1006.8 342.8L1009.2 353.1L1011.3 353.8L1013 357.6L1016.1 349.7L1020.5 339.4L1025 325.6L1029.8 303.2L1033.3 282.6L1036.4 260.2" fill="none" stroke="#464646" stroke-width="2.5" stroke-linejoin="round" stroke-linecap="round"/>
<path d="M951.5 359.8H996" fill="none" stroke="#ff0000" stroke-width="2"/>
<path d="M1012.4 359.8L994.6 353.6V366Z" fill="#ff0000"/>

<!-- ============ text ============ -->
<text x="43.6" y="72.2" font-size="23" textLength="12.4" lengthAdjust="spacingAndGlyphs">7</text>
<text x="43.6" y="124.4" font-size="23" textLength="12.4" lengthAdjust="spacingAndGlyphs">6</text>
<text x="43.6" y="176.6" font-size="23" textLength="12.4" lengthAdjust="spacingAndGlyphs">5</text>
<text x="43.6" y="228.8" font-size="23" textLength="12.4" lengthAdjust="spacingAndGlyphs">4</text>
<text x="43.6" y="281" font-size="23" textLength="12.4" lengthAdjust="spacingAndGlyphs">3</text>
<text x="43.6" y="333.2" font-size="23" textLength="12.4" lengthAdjust="spacingAndGlyphs">2</text>
<text x="43.6" y="385.4" font-size="23" textLength="12.4" lengthAdjust="spacingAndGlyphs">1</text>
<text x="110.8" y="418.6" font-size="23" textLength="29.2" lengthAdjust="spacingAndGlyphs">0.2</text>
<text x="169.2" y="418.6" font-size="23" textLength="29.2" lengthAdjust="spacingAndGlyphs">0.4</text>
<text x="227.6" y="418.6" font-size="23" textLength="29.2" lengthAdjust="spacingAndGlyphs">0.6</text>
<text x="286" y="418.6" font-size="23" textLength="29.2" lengthAdjust="spacingAndGlyphs">0.8</text>
<text x="353" y="418.6" font-size="23" textLength="11.5" lengthAdjust="spacingAndGlyphs">1</text>
<text x="495.3" y="55.6" font-size="23" textLength="50.2" lengthAdjust="spacingAndGlyphs">205.0</text>
<text x="495.3" y="97.9" font-size="23" textLength="50.2" lengthAdjust="spacingAndGlyphs">179.4</text>
<text x="495.3" y="140.2" font-size="23" textLength="50.2" lengthAdjust="spacingAndGlyphs">153.8</text>
<text x="495.3" y="182.6" font-size="23" textLength="50.2" lengthAdjust="spacingAndGlyphs">128.1</text>
<text x="495.3" y="224.9" font-size="23" textLength="50.2" lengthAdjust="spacingAndGlyphs">102.5</text>
<text x="495.3" y="267.2" font-size="23" textLength="50.2" lengthAdjust="spacingAndGlyphs">76.88</text>
<text x="495.3" y="309.6" font-size="23" textLength="50.2" lengthAdjust="spacingAndGlyphs">51.25</text>
<text x="495.3" y="351.9" font-size="23" textLength="50.2" lengthAdjust="spacingAndGlyphs">25.63</text>
<text x="495.3" y="394.2" font-size="23" textLength="50.2" lengthAdjust="spacingAndGlyphs">0.000</text>
<text x="616.4" y="392.5" font-size="23" textLength="31" lengthAdjust="spacingAndGlyphs">-10</text>
<text x="635.6" y="339.1" font-size="23" textLength="11.8" lengthAdjust="spacingAndGlyphs">0</text>
<text x="624.6" y="285.8" font-size="23" textLength="22.8" lengthAdjust="spacingAndGlyphs">10</text>
<text x="624.6" y="232.4" font-size="23" textLength="22.8" lengthAdjust="spacingAndGlyphs">20</text>
<text x="624.6" y="179.1" font-size="23" textLength="22.8" lengthAdjust="spacingAndGlyphs">30</text>
<text x="624.6" y="125.8" font-size="23" textLength="22.8" lengthAdjust="spacingAndGlyphs">40</text>
<text x="624.6" y="72.4" font-size="23" textLength="22.8" lengthAdjust="spacingAndGlyphs">50</text>
<text x="649.1" y="411.3" font-size="23" textLength="11.8" lengthAdjust="spacingAndGlyphs">0</text>
<text x="701.1" y="411.3" font-size="23" textLength="11.8" lengthAdjust="spacingAndGlyphs">1</text>
<text x="753.1" y="411.3" font-size="23" textLength="11.8" lengthAdjust="spacingAndGlyphs">2</text>
<text x="805.1" y="411.3" font-size="23" textLength="11.8" lengthAdjust="spacingAndGlyphs">3</text>
<text x="857.1" y="411.3" font-size="23" textLength="11.8" lengthAdjust="spacingAndGlyphs">4</text>
<text x="909.1" y="411.3" font-size="23" textLength="11.8" lengthAdjust="spacingAndGlyphs">5</text>
<text x="961.1" y="411.3" font-size="23" textLength="11.8" lengthAdjust="spacingAndGlyphs">6</text>
<text x="1013.1" y="411.3" font-size="23" textLength="11.8" lengthAdjust="spacingAndGlyphs">7</text>
<text x="1065.1" y="411.3" font-size="23" textLength="11.8" lengthAdjust="spacingAndGlyphs">8</text>
<text x="434.4" y="31.4" font-size="22.5" textLength="76" lengthAdjust="spacingAndGlyphs"><tspan class="it">p</tspan><tspan dx="2">(Mpa)</tspan></text>
<text x="200.3" y="452" font-size="22.5" textLength="48.4" lengthAdjust="spacingAndGlyphs"><tspan class="it">x</tspan><tspan dx="2">(m)</tspan></text>
<text x="336.2" y="443.6" font-size="22.5" textLength="87.6" lengthAdjust="spacingAndGlyphs">projectile</text>
<text x="436.4" y="443.6" font-size="22.5" textLength="89.2" lengthAdjust="spacingAndGlyphs">trajectory</text>
<text transform="translate(257.2 508.8) scale(0.88 1.25)" x="0" y="0" font-size="25">(</text>
<text x="266" y="508.2" font-size="26.5" font-weight="bold" textLength="12.6" lengthAdjust="spacingAndGlyphs">a</text>
<text transform="translate(281.4 508.8) scale(0.88 1.25)" x="0" y="0" font-size="25">)</text>
<text transform="translate(29.2 235.6) rotate(-90)" x="0" y="0" font-size="22.5" textLength="55.8" lengthAdjust="spacingAndGlyphs"><tspan class="it">t</tspan><tspan dx="2">(ms)</tspan></text>

<text transform="translate(601.8 258) rotate(-90)" x="0" y="0" font-size="22.5" textLength="89" lengthAdjust="spacingAndGlyphs"><tspan font-size="15.5">&#916;</tspan><tspan class="it">p</tspan><tspan dx="1.5">(Mpa)</tspan></text>
<text x="697.2" y="366.4" font-size="22.5" textLength="249" lengthAdjust="spacingAndGlyphs">the minimum value point</text>
<text x="842.4" y="452" font-size="22.5" textLength="56" lengthAdjust="spacingAndGlyphs"><tspan class="it">t</tspan><tspan dx="2">(ms)</tspan></text>
<text transform="translate(810 508.6) scale(0.88 1.25)" x="0" y="0" font-size="25">(</text>
<text x="819.2" y="507.8" font-size="27" font-weight="bold" textLength="15.6" lengthAdjust="spacingAndGlyphs">b</text>
<text transform="translate(835.6 508.6) scale(0.88 1.25)" x="0" y="0" font-size="25">)</text>
</svg>
</body>
</html>
